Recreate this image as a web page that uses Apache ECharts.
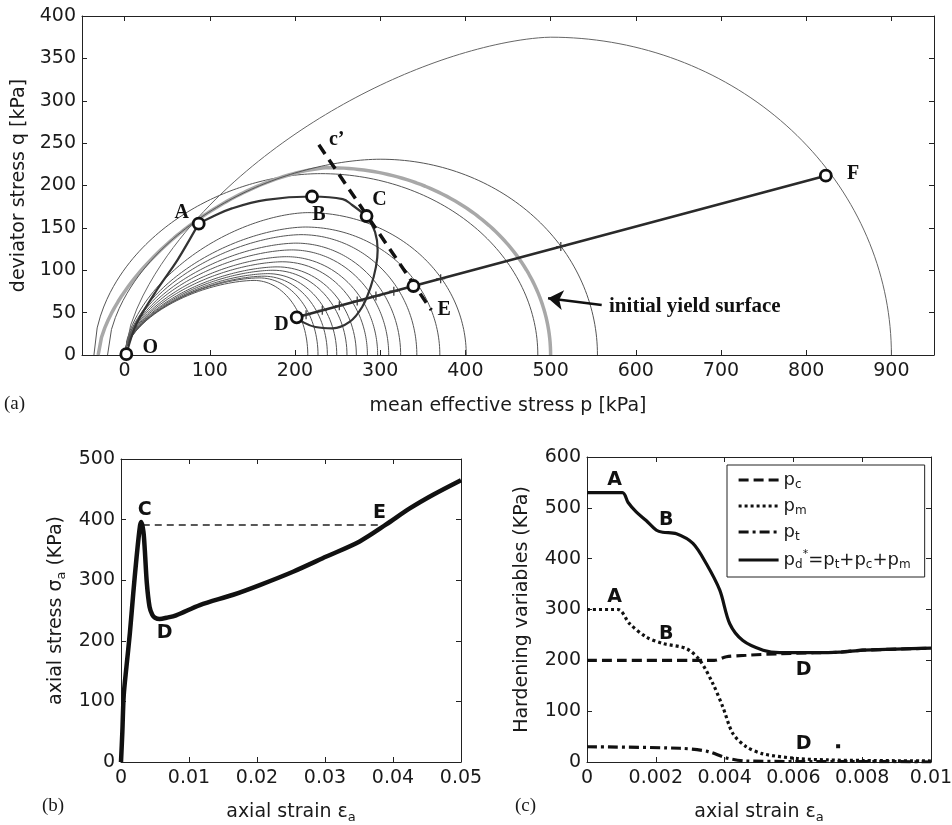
<!DOCTYPE html>
<html><head><meta charset="utf-8">
<script src="https://cdn.jsdelivr.net/npm/echarts@6/dist/echarts.min.js"></script>
<style>html,body{margin:0;padding:0;background:#fff}#c{width:952px;height:825px}</style>
</head><body><div id="c"></div><script>
// ---------- Panel (a): p-q plane ----------
const P_TICKS = [0,100,200,300,400,500,600,700,800,900];
// small yield surfaces (left end at origin)
const smallArcRight = [215,227,238,249,261,272,285,297,310,324,343,370,401];
const smallArcTopP  = [152,158,163,168,174,179,185,190,196,201,207,212,215];
const smallArcTopQ  = [88,91,93,96,100,104,110,116,124,132,142,151,168];
// larger surfaces: [left end, p at top, q at top, right end, left-shape exponent]
const arc485  = [-36,230,214,485,1.9];
const arcInit = [-31,240,221,500,1.6];   // initial yield surface (grey)
const arc555  = [-20,300,231,555,1.8];
const arc900  = [0,500,375,900,1.6];
// stress path
const pathOA  = [[2,1],[14,37],[38,77],[62,112],[87,155]];
const pathABC = [[87,155],[103,163],[126,173],[166,183],[220,187],[256,184],[267,177],[284,164]];
const pathCD  = [[284,164],[294,145],[297,124],[295,104],[289,81],[279,57],[264,39],[244,31.5],[224,33],[209,39],[202,44.5]];
const pathDEF = [[202,44.5],[339,81.4],[823,211.6]];
const plusMarks = [[213,47.6],[232,52.7],[252,58.1],[273,63.7],[295,69.6],[316,75.3],[371,90],[512,128]];
const lineCprime = [[228,248],[360,53]];
const keyPoints = [[2,1],[87,155],[220,187],[284,164],[202,44.5],[339,81.4],[823,211.6]];
const keyLabels = [[30,8,'O'],[67,168,'A'],[228,165,'B'],[299,183,'C'],[184,36,'D'],[375,53,'E'],[855,214,'F'],[249,254,'c\u2019']];
const arrowFrom = [560,59], arrowTo = [497,67];
const noteText = [[568,57,'initial yield surface']];

// ---------- Panel (b): stress-strain ----------
const strainB = [0,0.0002,0.0004,0.0008,0.0013,0.0018,0.0023,0.0028,0.003,0.0033,0.0035,0.0038,0.0042,0.0046,0.005,0.0057,0.0067,0.0081,0.0116,0.0165,0.0204,0.0253,0.0302,0.0351,0.039,0.0424,0.0459,0.05];
const stressB = [0,50,110,157,212,278,339,390,396,380,350,295,256,243,238,236,238,242,259,276,292,314,339,364,392,418,441,465];
const dashB = [[0.0032,391],[0.038,391]];
const labelsB = [[0.0035,416,'C'],[0.0064,212,'D'],[0.038,410,'E']];

// ---------- Panel (c): hardening variables ----------
const strainPd = [0,0.00103,0.00119,0.00143,0.00172,0.00202,0.0022,0.0026,0.00308,0.00347,0.00386,0.00415,0.00453,0.00512,0.0056,0.00657,0.00734,0.00802,0.00899,0.01];
const valPd    = [530,530,511,492,475,456,452,449,430,390,338,272,239,220,215,215,216,220,222,224];
const strainPc = [0,0.0037,0.00405,0.00463,0.0056,0.0066,0.0073,0.008,0.009,0.01];
const valPc    = [200,200,207,210,213,215,216,220,222,224];
const strainPm = [0,0.0009,0.00124,0.00172,0.00221,0.00289,0.00328,0.00366,0.00395,0.00424,0.00463,0.00512,0.00609,0.007,0.008,0.01];
const valPm    = [300,300,272,246,233,223,200,154,108,56,30,16,7,4,3,2];
const strainPt = [0,0.0027,0.0035,0.00405,0.00463,0.006,0.008,0.01];
const valPt    = [30,27,21,8,2,1,1,0];
const strayDot = [[0.0073,31]];
const labelsC = [[0.0008,554,'A'],[0.0023,475,'B'],[0.0008,325,'A'],[0.0023,251,'B'],[0.0063,180,'D'],[0.0063,36,'D']];

const SANS = 'DejaVu Sans', SERIF = 'Liberation Serif';
const INK = '#1a1a1a';

function surface(s){
  const [pL,pT,qT,pR,k] = s, pts=[], N=70;
  for(let i=0;i<=N;i++){const t=i/N;pts.push([pL+t*(pT-pL), qT*Math.pow(1-Math.pow(1-t,k),1/k)]);}
  for(let i=1;i<=N;i++){const a=i/N*Math.PI/2;pts.push([pT+(pR-pT)*Math.sin(a), qT*Math.cos(a)]);}
  return pts;
}
const zip=(a,b)=>a.map((v,i)=>[v,b[i]]);

function xAx(grid,min,max,opt,top){
  return Object.assign({type:'value',gridIndex:grid,min,max,position:top?'top':'bottom',
    axisLine:{show:true,onZero:false,lineStyle:{color:'#222',width:1}},
    axisTick:{show:true,inside:true,length:5,lineStyle:{color:'#222'}},
    splitLine:{show:false},
    axisLabel:{show:!top,color:INK,fontFamily:SANS,fontSize:19,margin:7}},opt||{});
}
function yAx(grid,min,max,opt,right){
  return Object.assign({type:'value',gridIndex:grid,min,max,position:right?'right':'left',
    axisLine:{show:true,onZero:false,lineStyle:{color:'#222',width:1}},
    axisTick:{show:true,inside:true,length:5,lineStyle:{color:'#222'}},
    splitLine:{show:false},
    axisLabel:{show:!right,color:INK,fontFamily:SANS,fontSize:19,margin:6}},opt||{});
}
const nameStyle = {color:INK,fontFamily:SANS,fontSize:19,
  rich:{t:{color:INK,fontFamily:SANS,fontSize:19,lineHeight:24},s:{color:INK,fontFamily:SANS,fontSize:13,lineHeight:13,verticalAlign:'bottom'}}};

const pTickCfg = {axisTick:{show:true,inside:true,length:5,lineStyle:{color:'#222'},customValues:P_TICKS},
                  axisLabel:{color:INK,fontFamily:SANS,fontSize:19,margin:7,customValues:P_TICKS}};

const xAxis = [
  xAx(0,-50,950,Object.assign({name:'mean effective stress p [kPa]',nameLocation:'middle',nameGap:42,nameTextStyle:nameStyle},pTickCfg)),
  xAx(0,-50,950,{axisTick:{show:true,inside:true,length:5,lineStyle:{color:'#222'},customValues:P_TICKS},axisLabel:{show:false}},true),
  xAx(1,0,0.05,{interval:0.01,name:'{t|axial strain \u03b5}{s|a}',nameLocation:'middle',nameGap:38,nameTextStyle:nameStyle}),
  xAx(1,0,0.05,{interval:0.01},true),
  xAx(2,0,0.01,{interval:0.002,name:'{t|axial strain \u03b5}{s|a}',nameLocation:'middle',nameGap:38,nameTextStyle:nameStyle}),
  xAx(2,0,0.01,{interval:0.002},true)
];
const yAxis = [
  yAx(0,0,400,{interval:50,name:'deviator stress q [kPa]',nameLocation:'middle',nameGap:50,nameTextStyle:nameStyle}),
  yAx(0,0,400,{interval:50},true),
  yAx(1,0,500,{interval:100,name:'{t|axial stress \u03c3}{s|a}{t| (KPa)}',nameLocation:'middle',nameGap:53,nameTextStyle:nameStyle}),
  yAx(1,0,500,{interval:100},true),
  yAx(2,0,600,{interval:100,name:'Hardening variables (KPa)',nameLocation:'middle',nameGap:55,nameTextStyle:nameStyle}),
  yAx(2,0,600,{interval:100},true)
];

function lineS(xi,yi,data,style,extra){
  return Object.assign({type:'line',xAxisIndex:xi,yAxisIndex:yi,data,showSymbol:false,symbol:'none',
    itemStyle:{color:style.color},lineStyle:style,silent:true},extra||{});
}
function labelS(xi,yi,data,font){
  return {type:'scatter',xAxisIndex:xi,yAxisIndex:yi,data,symbolSize:1,itemStyle:{color:'rgba(0,0,0,0)',opacity:1},
    label:Object.assign({show:true,position:'inside',formatter:p=>p.data[2],color:'#111'},font),silent:true,z:20};
}

const series = [];
smallArcRight.forEach((r,i)=>{
  series.push(lineS(0,0,surface([0,smallArcTopP[i],smallArcTopQ[i],r,1.7]),{color:'#555',width:1}));
});
series.push(lineS(0,0,surface(arc485),{color:'#555',width:1}));
series.push(lineS(0,0,surface(arcInit),{color:'#a8a8a8',width:3.5}));
series.push(lineS(0,0,surface(arc555),{color:'#555',width:1}));
series.push(lineS(0,0,surface(arc900),{color:'#666',width:1}));
series.push(lineS(0,0,pathOA,{color:'#333',width:2.2},{smooth:0.3}));
series.push(lineS(0,0,pathABC,{color:'#333',width:2.2},{smooth:0.4}));
series.push(lineS(0,0,pathCD,{color:'#333',width:2.2},{smooth:0.4}));
series.push(lineS(0,0,pathDEF,{color:'#2a2a2a',width:2.6},{
  markLine:{silent:true,symbol:['none','arrow'],symbolSize:15,label:{show:false},
    lineStyle:{color:'#111',width:2.4,type:'solid'},data:[[{coord:arrowFrom},{coord:arrowTo}]]}}));
series.push({type:'scatter',xAxisIndex:0,yAxisIndex:0,data:plusMarks,symbol:'path://M0,-5L0,5M-5,0L5,0',symbolSize:9,
  itemStyle:{color:'none',borderColor:'#333',borderWidth:1.2,opacity:1},silent:true,z:4});
series.push(lineS(0,0,lineCprime,{color:'#111',width:3.5,type:[11,7]}));
series.push({type:'scatter',xAxisIndex:0,yAxisIndex:0,data:keyPoints,symbol:'circle',symbolSize:11,
  itemStyle:{color:'#fff',borderColor:'#111',borderWidth:2.8,opacity:1},silent:true,z:6});
series.push(labelS(0,0,keyLabels,{fontFamily:SERIF,fontWeight:'bold',fontSize:20}));
series.push(labelS(0,0,noteText,{fontFamily:SERIF,fontWeight:'bold',fontSize:21,position:'right',distance:0}));

// panel b
series.push(lineS(2,2,dashB,{color:'#222',width:1.5,type:[7,5]}));
series.push(lineS(2,2,zip(strainB,stressB),{color:'#111',width:4.5},{smooth:0.3}));
series.push(labelS(2,2,labelsB,{fontFamily:SANS,fontWeight:'bold',fontSize:19}));

// panel c
series.push(lineS(4,4,zip(strainPd,valPd),{color:'#111',width:3.2},{name:'pd',smooth:0.3}));
series.push(lineS(4,4,zip(strainPc,valPc),{color:'#111',width:3.2,type:[10,5]},{name:'pc',smooth:0.3}));
series.push(lineS(4,4,zip(strainPm,valPm),{color:'#111',width:3.2,type:[3,3]},{name:'pm',smooth:0.3}));
series.push(lineS(4,4,zip(strainPt,valPt),{color:'#111',width:3.2,type:[10,4,3,4]},{name:'pt',smooth:0.3}));
series.push({type:'scatter',xAxisIndex:4,yAxisIndex:4,data:strayDot,symbol:'rect',symbolSize:4,itemStyle:{color:'#111',opacity:1},silent:true});
series.push(labelS(4,4,labelsC,{fontFamily:SANS,fontWeight:'bold',fontSize:19}));

const legendLabels = {
  pc:'{b|p}{s|c}',
  pm:'{b|p}{s|m}',
  pt:'{b|p}{s|t}',
  pd:'{b|p}{s|d}{u|*}{b|=p}{s|t}{b|+p}{s|c}{b|+p}{s|m}'
};

const chart = echarts.init(document.getElementById('c'),null,{renderer:'canvas'});
chart.setOption({
  animation:false,
  backgroundColor:'#fff',
  grid:[
    {left:82,top:16,width:852,height:339,outerBoundsMode:'none'},
    {left:121,top:459,width:340,height:303,outerBoundsMode:'none'},
    {left:587,top:457,width:344,height:305,outerBoundsMode:'none'}
  ],
  xAxis, yAxis,
  legend:{left:727,top:465,orient:'vertical',data:['pc','pm','pt','pd'],
    borderColor:'#222',borderWidth:1,padding:[6,14,6,10],itemWidth:40,itemHeight:14,itemGap:6,
    selectedMode:false,
    itemStyle:{opacity:0},
    lineStyle:{color:'#111',width:3.2},
    formatter:n=>legendLabels[n],
    textStyle:{color:INK,fontFamily:SANS,fontSize:18,
      rich:{b:{color:INK,fontFamily:SANS,fontSize:18,lineHeight:22,padding:[0,0,0,0]},
            s:{color:INK,fontFamily:SANS,fontSize:12,lineHeight:12,verticalAlign:'bottom'},
            u:{color:INK,fontFamily:SANS,fontSize:11,lineHeight:11,verticalAlign:'top'}}}},
  graphic:[
    {type:'text',left:4,top:395,style:{text:'(a)',font:'19px "Liberation Serif"',fill:INK}},
    {type:'text',left:42,top:797,style:{text:'(b)',font:'19px "Liberation Serif"',fill:INK}},
    {type:'text',left:515,top:797,style:{text:'(c)',font:'19px "Liberation Serif"',fill:INK}}
  ],
  series
});
</script></body></html>
